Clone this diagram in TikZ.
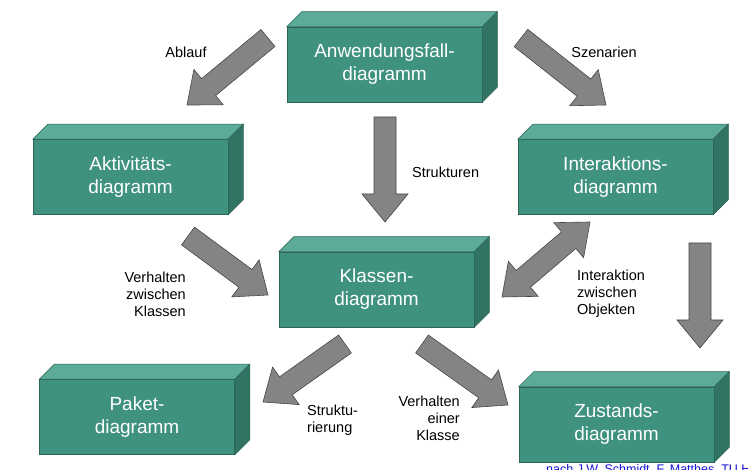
\documentclass[tikz,border=0pt]{standalone}
\usepackage{fontspec}
\setmainfont{Liberation Sans}
\usetikzlibrary{calc}
\definecolor{boxfront}{RGB}{64,146,128}
\definecolor{boxtop}{RGB}{92,170,152}
\definecolor{boxside}{RGB}{50,116,100}
\definecolor{boxedge}{RGB}{42,100,86}
\definecolor{arrfill}{RGB}{132,132,132}
\definecolor{arredge}{RGB}{70,70,70}
\definecolor{creditblue}{RGB}{20,20,210}
\tikzset{
  box/.style={rectangle, fill=boxfront, draw=boxedge, line width=0.5pt,
    minimum width=195pt, minimum height=75pt, inner sep=0pt,
    text=white, align=center, font=\fontsize{19}{23}\selectfont},
  lbl/.style={font=\fontsize{14.5}{17}\selectfont, inner sep=0pt},
  arrowbody/.style={fill=arrfill, draw=arredge, line width=0.6pt, line join=miter},
}
\newcommand\cuboid[1]{%
  \filldraw[fill=boxtop, draw=boxedge, line width=0.5pt] (#1.north west) -- ++(15,-15) -- ($(#1.north east)+(15,-15)$) -- (#1.north east) -- cycle;
  \filldraw[fill=boxside, draw=boxedge, line width=0.5pt] (#1.north east) -- ++(15,-15) -- ($(#1.south east)+(15,-15)$) -- (#1.south east) -- cycle;
}
\newcommand\blockarrow[2]{%
  \coordinate (hb) at ($(#2)!28pt!(#1)$);
  \filldraw[arrowbody] ($(#1)!11pt!90:(#2)$) -- ($(hb)!11pt!90:(#2)$) -- ($(hb)!23pt!90:(#2)$) -- (#2) -- ($(hb)!23pt!-90:(#2)$) -- ($(hb)!11pt!-90:(#2)$) -- ($(#1)!11pt!-90:(#2)$) -- cycle;
}
\newcommand\dblarrow[2]{%
  \coordinate (hbA) at ($(#1)!28pt!(#2)$);
  \coordinate (hbB) at ($(#2)!28pt!(#1)$);
  \filldraw[arrowbody] (#1) -- ($(hbA)!23pt!90:(#2)$) -- ($(hbA)!11pt!90:(#2)$) -- ($(hbB)!11pt!90:(#2)$) -- ($(hbB)!23pt!90:(#2)$) -- (#2) -- ($(hbB)!23pt!-90:(#2)$) -- ($(hbB)!11pt!-90:(#2)$) -- ($(hbA)!11pt!-90:(#2)$) -- ($(hbA)!23pt!-90:(#2)$) -- cycle;
}
\begin{document}
\begin{tikzpicture}[x=1pt, y=-1pt]
\useasboundingbox (0,0) rectangle (748,470);
\clip (0,0) rectangle (748,470);
\fill[white] (0,0) rectangle (748,470);

% boxes
\node[box] (anw) at (384.5,64.5) {Anwendungsfall-\\diagramm};
\node[box] (akt) at (130.5,177) {Aktivitäts-\\diagramm};
\node[box] (inter) at (615.5,177) {Interaktions-\\diagramm};
\node[box] (klass) at (376.5,289.5) {Klassen-\\diagramm};
\node[box] (paket) at (137,417) {Paket-\\diagramm};
\node[box] (zust) at (616.5,424.5) {Zustands-\\diagramm};
\cuboid{anw}\cuboid{akt}\cuboid{inter}\cuboid{klass}\cuboid{paket}\cuboid{zust}

% arrow end points
\coordinate (a1s) at (268,38);  \coordinate (a1e) at (187,105);
\coordinate (a2s) at (521,38);  \coordinate (a2e) at (606,105);
\coordinate (a3s) at (385,117); \coordinate (a3e) at (385,222);
\coordinate (a4s) at (188,236); \coordinate (a4e) at (268,295);
\coordinate (a5s) at (590,222); \coordinate (a5e) at (502,297);
\coordinate (a6s) at (700,243); \coordinate (a6e) at (700,348);
\coordinate (a7s) at (345,344); \coordinate (a7e) at (263,402);
\coordinate (a8s) at (422,344); \coordinate (a8e) at (508,405);

\blockarrow{a1s}{a1e}
\blockarrow{a2s}{a2e}
\blockarrow{a3s}{a3e}
\blockarrow{a4s}{a4e}
\dblarrow{a5s}{a5e}
\blockarrow{a6s}{a6e}
\blockarrow{a7s}{a7e}
\blockarrow{a8s}{a8e}

% labels
\node[lbl] (l1) at (186,52) {Ablauf};
\node[lbl] (l2) at (604,52) {Szenarien};
\node[lbl, anchor=base west] (l3) at (412,178) {Strukturen};
\node[lbl, anchor=east, align=right] (l4) at (186,294) {Verhalten\\zwischen\\Klassen};
\node[lbl, anchor=west, align=left] (l5) at (577,294) {Interaktion\\zwischen\\Objekten};
\node[lbl, anchor=west, align=left] (l6) at (307,420) {Struktu-\\rierung};
\node[lbl, anchor=east, align=right] (l7) at (460,418) {Verhalten\\einer\\Klasse};

% credit (cut off at the bottom edge)
\node[anchor=base west, inner sep=0pt, text=creditblue, font=\fontsize{12.5}{15}\selectfont] (cr) at (546,474) {nach J.W. Schmidt, F. Matthes, TU Hamburg-Harburg};
\end{tikzpicture}
\end{document}
